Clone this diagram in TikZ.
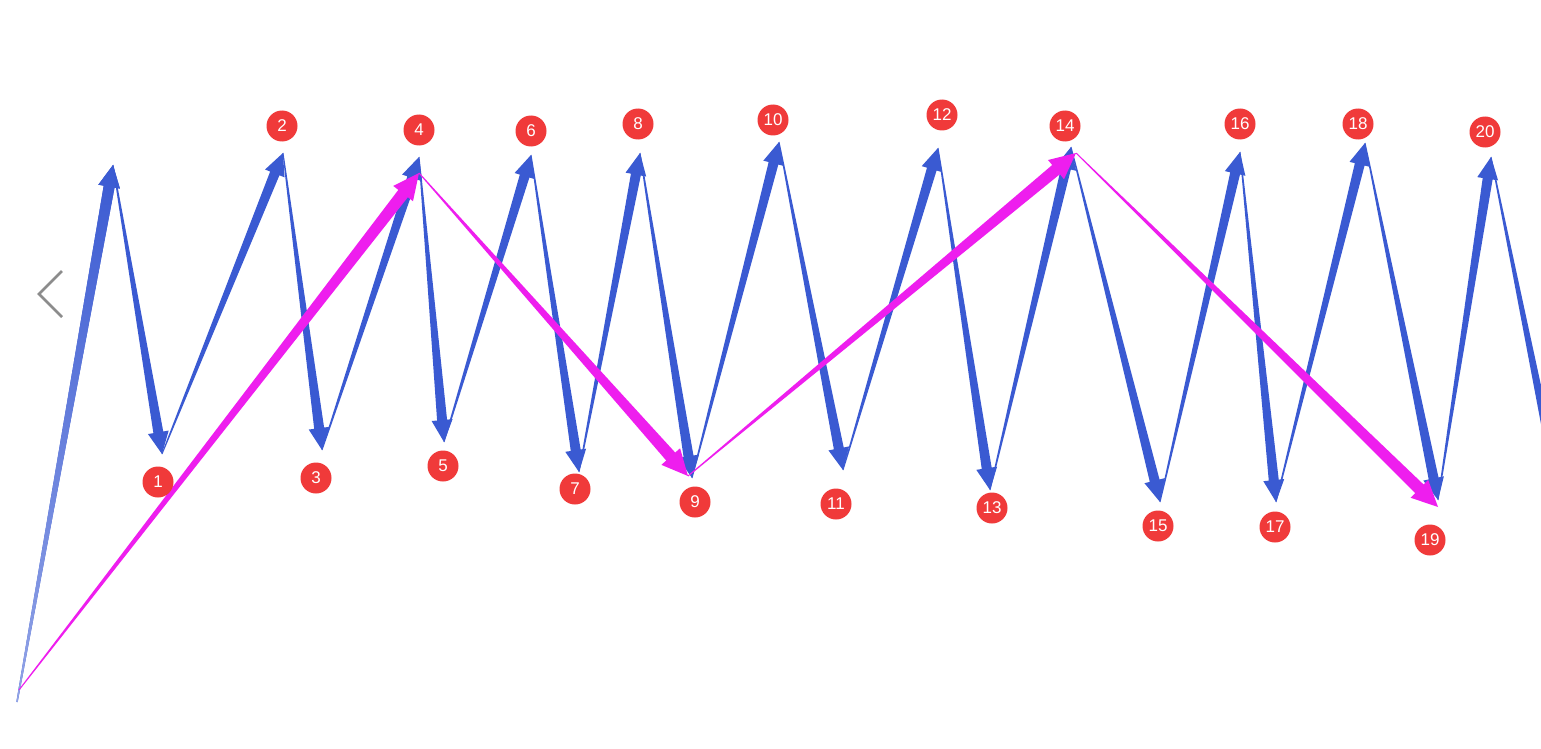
\documentclass[tikz,border=0pt]{standalone}
\usepackage{fontspec}
\setmainfont{Liberation Sans}
\usetikzlibrary{calc}
\definecolor{wblue}{HTML}{3A5AD2}
\definecolor{wmag}{HTML}{EE1EEE}
\definecolor{wred}{HTML}{F03A3A}
\definecolor{wgray}{HTML}{8C8C8C}
% #1 extra style, #2 from, #3 to, #4 fill, #5 start half width, #6 end half width, #7 head length, #8 head half width
\newcommand{\taperarrow}[8][]{%
  \coordinate (th) at ($(#3)!#7!(#2)$);
  \path[fill=#4,#1] ($(#2)!#5!90:(#3)$) -- ($(th)!#6!90:(#3)$) -- ($(th)!#8!90:(#3)$) -- (#3)
     -- ($(th)!#8!-90:(#3)$) -- ($(th)!#6!-90:(#3)$) -- ($(#2)!#5!-90:(#3)$) -- cycle;}
\tikzset{lab/.style={circle,fill=wred,text=white,minimum size=31pt,inner sep=0pt,
  font=\fontsize{17pt}{17pt}\selectfont}}
\begin{document}
\begin{tikzpicture}[x=1pt,y=-1pt]
\clip (0,0) rectangle (1541,749);
\fill[white] (0,0) rectangle (1541,749);
% vertices
\coordinate (v0) at (17,702);
\coordinate (va) at (113,165);
\coordinate (v1) at (162,454);
\coordinate (v2) at (283,153);
\coordinate (v3) at (322,450);
\coordinate (v4) at (419,157);
\coordinate (v5) at (444,442);
\coordinate (v6) at (531,155);
\coordinate (v7) at (579,472);
\coordinate (v8) at (640,153);
\coordinate (v9) at (692,478);
\coordinate (v10) at (779,142);
\coordinate (v11) at (843,470);
\coordinate (v12) at (938,148);
\coordinate (v13) at (990,490);
\coordinate (v14) at (1071,147);
\coordinate (v15) at (1160,502);
\coordinate (v16) at (1240,152);
\coordinate (v17) at (1276,502);
\coordinate (v18) at (1365,143);
\coordinate (v19) at (1438,500);
\coordinate (v20) at (1491,157);
\coordinate (v21) at (1563,512);
% magenta points
\coordinate (m0) at (19,690);
\coordinate (m4) at (419,173);
\coordinate (m9) at (688,476);
\coordinate (m14) at (1076,153);
\coordinate (m19) at (1438,507);
% chevron
\draw[wgray,line width=2.5pt] (62,271) -- (39,294) -- (62,317);
% blue wave
\taperarrow[top color=wblue,bottom color=wblue!55!white]{v0}{va}{wblue}{0.7pt}{5.5pt}{22pt}{11pt}
\foreach \a/\b in {va/v1,v1/v2,v2/v3,v3/v4,v4/v5,v5/v6,v6/v7,v7/v8,v8/v9,v9/v10,
  v10/v11,v11/v12,v12/v13,v13/v14,v14/v15,v15/v16,v16/v17,v17/v18,v18/v19,v19/v20,v20/v21}
  {\taperarrow{\a}{\b}{wblue}{0.5pt}{5pt}{22pt}{10.5pt}}
% magenta
\foreach \a/\b in {m0/m4,m4/m9,m9/m14,m14/m19}
  {\taperarrow{\a}{\b}{wmag}{0.5pt}{6pt}{26pt}{12.5pt}}
% labels
\node[lab] (l1) at (158,482) {1};
\node[lab] (l2) at (282,126) {2};
\node[lab] (l3) at (316,478) {3};
\node[lab] (l4) at (419,130) {4};
\node[lab] (l5) at (443,466) {5};
\node[lab] (l6) at (531,131) {6};
\node[lab] (l7) at (575,489) {7};
\node[lab] (l8) at (638,124) {8};
\node[lab] (l9) at (695,502) {9};
\node[lab] (l10) at (773,120) {10};
\node[lab] (l11) at (836,504) {11};
\node[lab] (l12) at (942,115) {12};
\node[lab] (l13) at (992,508) {13};
\node[lab] (l14) at (1065,126) {14};
\node[lab] (l15) at (1158,526) {15};
\node[lab] (l16) at (1240,124) {16};
\node[lab] (l17) at (1275,527) {17};
\node[lab] (l18) at (1358,124) {18};
\node[lab] (l19) at (1430,540) {19};
\node[lab] (l20) at (1485,132) {20};
\end{tikzpicture}
\end{document}
